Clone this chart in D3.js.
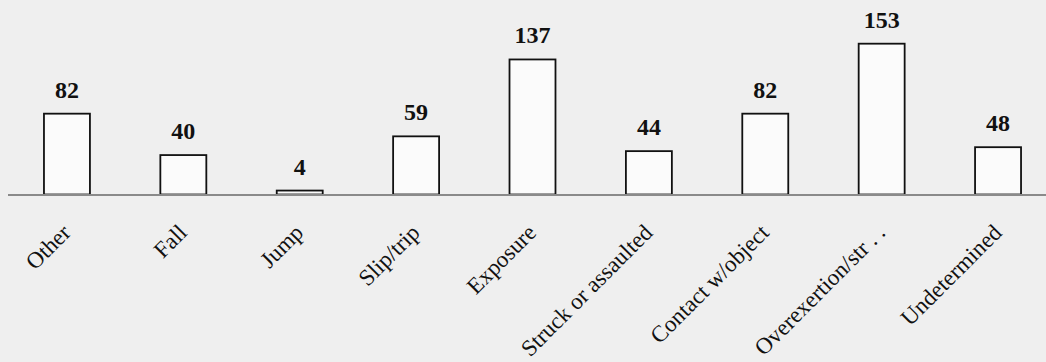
<!DOCTYPE html>
<html>
<head>
<meta charset="utf-8">
<script src="https://cdn.jsdelivr.net/npm/d3@7"></script>
<style>
  body { margin: 0; background: #efefef; }
  svg { display: block; }
</style>
</head>
<body>
<div id="chart"></div>
<script>
var width = 1046;
var height = 362;

// data
var categories = ["Other", "Fall", "Jump", "Slip/trip", "Exposure", "Struck or assaulted",
                  "Contact w/object", "Overexertion/str . .", "Undetermined"];
var counts = [82, 40, 4, 59, 137, 44, 82, 153, 48];

var baseY = 194.5;

var svg = d3.select("#chart")
    .append("svg")
    .attr("width", width)
    .attr("height", height);

svg.append("rect")
    .attr("width", width)
    .attr("height", height)
    .attr("fill", "#efefef");

var x = d3.scaleBand()
    .domain(categories)
    .range([8, 1057])
    .paddingInner(0.605)
    .paddingOuter(0.309);

var y = d3.scaleLinear()
    .domain([0, 160])
    .range([baseY, baseY - 160 * 0.9857]);

// bars
svg.append("g")
    .selectAll("rect")
    .data(counts)
    .enter()
    .append("rect")
    .attr("x", function(d, i) { return x(categories[i]); })
    .attr("y", function(d) { return y(d); })
    .attr("width", x.bandwidth())
    .attr("height", function(d) { return y(0) - y(d); })
    .style("fill", "#fbfbfb")
    .style("stroke", "#111")
    .style("stroke-width", 1.8);

// baseline
svg.append("line")
    .attr("x1", 8)
    .attr("x2", width)
    .attr("y1", y(0) + 0.5)
    .attr("y2", y(0) + 0.5)
    .style("stroke", "#8a8a8a")
    .style("stroke-width", 2);

// value labels
svg.append("g")
    .selectAll("text")
    .data(counts)
    .enter()
    .append("text")
    .attr("x", function(d, i) { return x(categories[i]) + x.bandwidth() / 2; })
    .attr("y", function(d) { return y(d) - 16; })
    .attr("text-anchor", "middle")
    .style("font-family", "'Liberation Serif', 'Times New Roman', serif")
    .style("font-weight", "bold")
    .style("font-size", "24px")
    .style("fill", "#111")
    .text(function(d) { return d; });

// category labels
svg.append("g")
    .selectAll("text")
    .data(categories)
    .enter()
    .append("text")
    .attr("transform", function(d) {
        var cx = x(d) + x.bandwidth() / 2 + 5;
        return "translate(" + cx + "," + 234 + ") rotate(-45)";
    })
    .attr("text-anchor", "end")
    .style("font-family", "'Liberation Serif', 'Times New Roman', serif")
    .style("font-size", "23px")
    .style("fill", "#111")
    .text(function(d) { return d; });
</script>
</body>
</html>
